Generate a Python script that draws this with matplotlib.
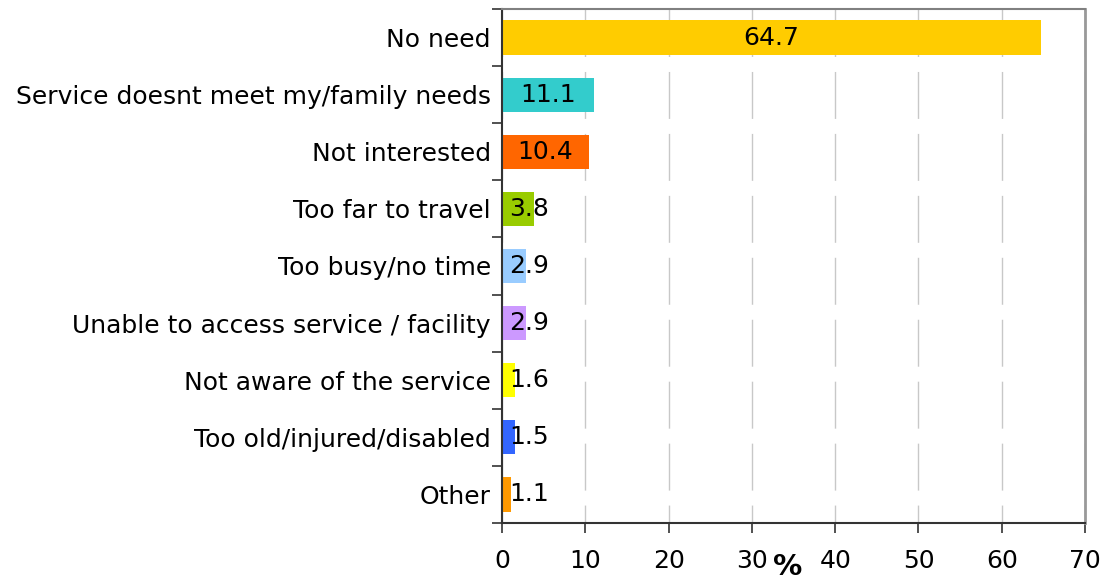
import matplotlib.pyplot as plt

# reasons for not using the service, share of respondents (%)
reasons = [
    "No need",
    "Service doesnt meet my/family needs",
    "Not interested",
    "Too far to travel",
    "Too busy/no time",
    "Unable to access service / facility",
    "Not aware of the service",
    "Too old/injured/disabled",
    "Other",
]
shares = [64.7, 11.1, 10.4, 3.8, 2.9, 2.9, 1.6, 1.5, 1.1]
bar_colors = ["#FFCC00", "#33CCCC", "#FF6600", "#99CC00", "#99CCFF",
              "#CC99FF", "#FFFF00", "#3366FF", "#FF9900"]
xticks = [0, 10, 20, 30, 40, 50, 60, 70]

plt.rcParams["font.family"] = ["DejaVu Sans"]
FS = 18

fig = plt.figure(figsize=(11.09, 5.8), dpi=100)
ax = fig.add_axes([0.4527, 0.0983, 0.5257, 0.8862])

ypos = list(range(len(reasons)))
ax.barh(ypos, shares, height=0.6, color=bar_colors, zorder=2)

# value labels: centred in the bar, pushed right for short bars
for y, v in zip(ypos, shares):
    ax.text(max(v / 2, 3.2), y, f"{v:.1f}", ha="center", va="center",
            fontsize=FS, color="black", zorder=3)

ax.set_xlim(0, 70)
ax.set_ylim(len(reasons) - 0.5, -0.5)
ax.set_xticks(xticks)
ax.set_xticklabels([str(t) for t in xticks], fontsize=FS)
ax.set_yticks(ypos)
ax.set_yticklabels(reasons, fontsize=FS)
ax.set_yticks([i + 0.5 for i in range(-1, len(reasons))], minor=True)

ax.tick_params(axis="y", which="major", length=0, pad=8)
ax.tick_params(axis="y", which="minor", length=7, width=1.2, color="#333333")
ax.tick_params(axis="x", length=7, width=1.2, color="#333333", pad=12)

# long-dash gridlines, phase set so the pattern starts at the top spine
ax.xaxis.grid(True, color="#c8c8c8", linewidth=1.0,
              linestyle=(20.9, (33.8, 10.8)), zorder=0)
ax.set_axisbelow(True)

for side in ("left", "bottom"):
    ax.spines[side].set_color("#333333")
    ax.spines[side].set_linewidth(1.5)
ax.spines["top"].set_color("#808080")
ax.spines["top"].set_linewidth(1.5)
ax.spines["right"].set_color("#999999")
ax.spines["right"].set_linewidth(2)

# axis title sits on the tick-label row, between 30 and 40
ax.set_xlabel("%", fontsize=FS + 3, fontweight="bold")
ax.xaxis.set_label_coords(0.49, -0.085)
ax.xaxis.label.set_verticalalignment("center")

fig.savefig("out.png", dpi=100)
